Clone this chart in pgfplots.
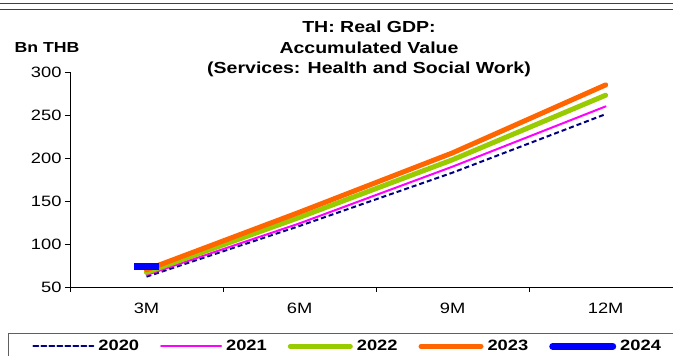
\documentclass[border=0pt]{standalone}
\usepackage{fontspec}
\setmainfont[FakeStretch=1.22]{Liberation Sans}
\usepackage{pgfplots}
\pgfplotsset{compat=1.18}
\usetikzlibrary{calc}

\definecolor{c2020}{RGB}{0,0,128}
\definecolor{c2021}{RGB}{255,0,255}
\definecolor{c2022}{RGB}{153,204,0}
\definecolor{c2023}{RGB}{255,102,0}
\definecolor{c2024}{RGB}{0,0,255}
\definecolor{frame}{RGB}{64,64,64}

\begin{document}
\begin{tikzpicture}[x=1pt,y=1pt]
\begin{axis}[
  scale only axis,
  width=603pt, height=215pt,
  xmin=-0.5, xmax=3.44,
  ymin=50, ymax=300,
  axis x line*=bottom, axis y line*=left,
  axis line style={black, line width=0.8pt},
  xtick={0,1,2,3},
  xticklabels={3M,6M,9M,12M},
  minor xtick={-0.5,0.5,1.5,2.5,3.5},
  ytick={50,100,...,300},
  tick align=outside,
  major x tick style={draw=none},
  minor tick length=5pt, major tick length=5pt,
  tick style={black, line width=0.8pt},
  /pgf/number format/assume math mode=true,
  tick label style={font=\fontsize{15}{18}\selectfont},
  xticklabel style={yshift=-7pt},
  clip=false,
  legend columns=5,
  legend style={at={(axis description cs:-0.1028,-0.2140)}, anchor=north west,
    draw=gray!75!black, line width=0.8pt,
    font=\fontsize{15}{18}\selectfont\bfseries,
    nodes={inner xsep=1pt},
    inner xsep=24pt, inner ysep=5pt,
    /tikz/every odd column/.append style={column sep=3pt},
    /tikz/every even column/.append style={column sep=20pt}},
  legend image code/.code={\draw[#1, line cap=round] (0pt,0pt) -- (60pt,0pt);},
]
\coordinate (O) at (rel axis cs:0,0);
\addplot[c2020, line width=2pt, dash pattern=on 5pt off 3pt] coordinates {(0,62) (1,121) (2,183) (3,251)};
\addlegendentry{2020}
\addplot[c2021, line width=2pt, line cap=round] coordinates {(0,64) (1,124) (2,190) (3,260)};
\addlegendentry{2021}
\addplot[c2022, line width=5pt, line cap=round, line join=round] coordinates {(0,67) (1,131) (2,198) (3,273)};
\addlegendentry{2022}
\addplot[c2023, line width=5pt, line cap=round, line join=round] coordinates {(0,70) (1,137) (2,206) (3,285)};
\addlegendentry{2023}
\addplot[c2024, line width=7pt, mark=-, mark size=12.5pt, mark options={line cap=butt}] coordinates {(0,74.4)};
\addlegendentry{2024}
\end{axis}

% page frame in reference pixels: top-left corner P, axis corner at (70,-287)
\coordinate (P) at ($(O)+(-70,287)$);
\pgfresetboundingbox
\path[use as bounding box] (P) rectangle ($(P)+(673,-356)$);
\begin{scope}[shift={(P)}]
  \draw[frame, line width=1pt] (0,-3.5) -- (673,-3.5);
  \draw[frame, line width=1pt] (0,-9.5) -- (673,-9.5);
  \node[font=\fontsize{14.5}{17}\selectfont\bfseries] at (47,-48) {Bn THB};
  \node[font=\fontsize{16}{19}\selectfont\bfseries] at (369,-27) {TH: Real GDP:};
  \node[font=\fontsize{16}{19}\selectfont\bfseries] at (369,-48) {Accumulated Value};
  \node[font=\fontsize{16}{19}\selectfont\bfseries] at (369,-69) {(Services: Health and Social Work)};
\end{scope}
\end{tikzpicture}
\end{document}
